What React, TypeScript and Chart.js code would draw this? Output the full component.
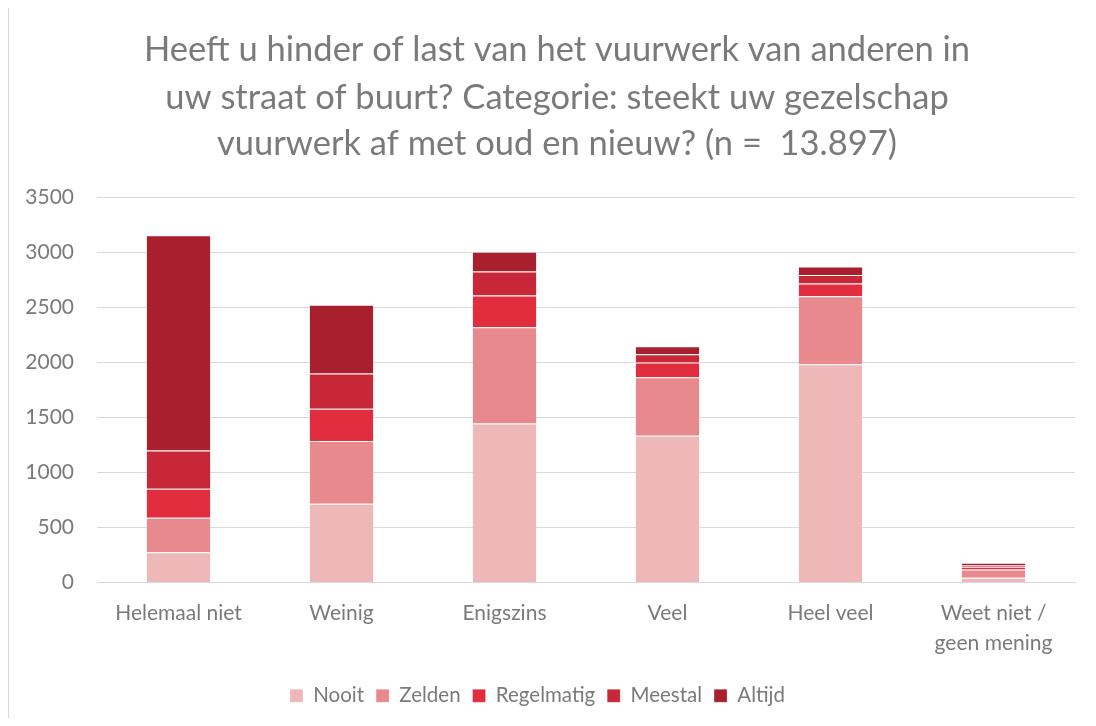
import React, { useEffect, useRef } from "react";
import { Chart, registerables } from "chart.js";

Chart.register(...registerables);

const categories: (string | string[])[] = [
  "Helemaal niet",
  "Weinig",
  "Enigszins",
  "Veel",
  "Heel veel",
  ["Weet niet /", "geen mening"],
];

const seriesNames = ["Nooit", "Zelden", "Regelmatig", "Meestal", "Altijd"];
const nooit = [275, 715, 1445, 1333, 1982, 45];
const zelden = [313, 570, 873, 531, 618, 75];
const regelmatig = [264, 294, 288, 133, 115, 25];
const meestal = [348, 318, 218, 76, 76, 15];
const altijd = [1952, 624, 179, 72, 79, 20];
const seriesColors = ["#EEB7B8", "#E8898E", "#E22D3F", "#C82737", "#A81F2E"];

const titleLines = [
  "Heeft u hinder of last van het vuurwerk van anderen in",
  "uw straat of buurt? Categorie: steekt uw gezelschap",
  "vuurwerk af met oud en nieuw? (n =  13.897)",
];

const FONT = "Lato, 'Open Sans', sans-serif";
const TEXT = "#7a7a7a";

const titlePlugin = {
  id: "offsetTitle",
  afterDraw(chart: any) {
    const ctx = chart.ctx;
    ctx.save();
    ctx.fillStyle = TEXT;
    ctx.font = `34.5px ${FONT}`;
    ctx.textAlign = "center";
    ctx.textBaseline = "middle";
    const ys = [50, 98, 144];
    titleLines.forEach((line, i) => ctx.fillText(line, 557, ys[i]));
    ctx.restore();
  },
};

export default function App() {
  const ref = useRef<HTMLCanvasElement | null>(null);

  useEffect(() => {
    if (!ref.current) return;
    const values = [nooit, zelden, regelmatig, meestal, altijd];
    const chart = new Chart(ref.current, {
      type: "bar",
      data: {
        labels: categories,
        datasets: seriesNames.map((name, i) => ({
          label: name,
          data: values[i],
          backgroundColor: seriesColors[i],
          borderColor: "rgba(255,255,255,0.25)",
          borderWidth: 1,
          barPercentage: 0.4,
          categoryPercentage: 1,
        })),
      },
      plugins: [titlePlugin],
      options: {
        responsive: false,
        animation: false,
        layout: { padding: { left: 0, right: 21, top: 197, bottom: 10 } },
        plugins: {
          title: { display: false },
          legend: {
            position: "bottom",
            labels: {
              color: TEXT,
              font: { family: FONT, size: 20.5 },
              boxWidth: 13,
              boxHeight: 13,
              padding: 12,
            },
          },
          tooltip: { enabled: false },
        },
        scales: {
          x: {
            stacked: true,
            grid: { display: false, drawTicks: false },
            border: { color: "#d9d9d9", width: 1 },
            ticks: {
              color: TEXT,
              font: { family: FONT, size: 21, lineHeight: 1.45 },
              padding: 15,
              maxRotation: 0,
            },
          },
          y: {
            stacked: true,
            min: 0,
            max: 3500,
            grid: { color: "#d9d9d9", drawTicks: false },
            border: { display: false },
            ticks: {
              stepSize: 500,
              color: TEXT,
              font: { family: FONT, size: 21 },
              padding: 23,
              callback: (v: any) => String(v),
            },
            afterFit: (axis: any) => {
              axis.width = 97;
            },
          },
        },
      },
    });
    return () => chart.destroy();
  }, []);

  return (
    <div style={{ position: "relative", width: 1096, height: 726, margin: -8 }}>
      <div
        style={{
          position: "absolute",
          left: 8,
          top: 7,
          width: 1100,
          height: 730,
          border: "1px solid #d9d9d9",
          boxSizing: "border-box",
        }}
      />
      <canvas
        ref={ref}
        width={1096}
        height={726}
        style={{ position: "absolute", left: 0, top: 0 }}
      />
    </div>
  );
}
